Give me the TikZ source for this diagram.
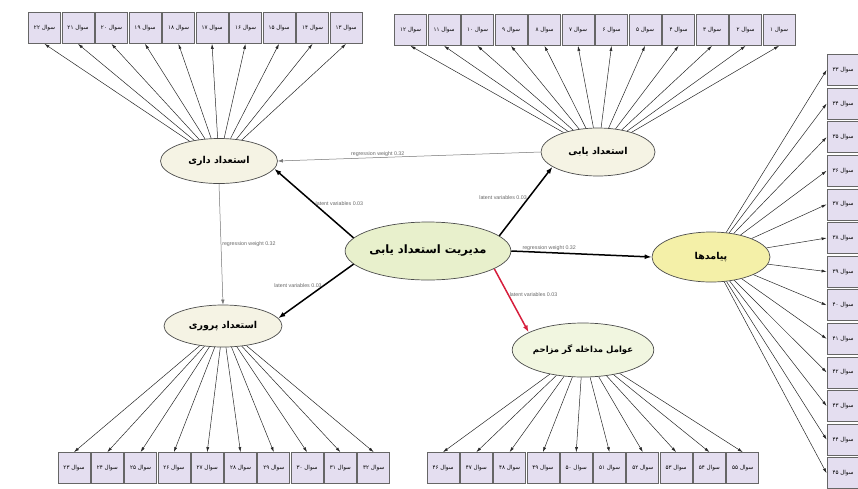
\documentclass[tikz,border=0pt]{standalone}
\usepackage{fontspec}
\setmainfont{Liberation Sans}
\newfontfamily\farsi[Script=Arabic]{DejaVu Sans}
\TeXXeTstate=1
\usetikzlibrary{arrows.meta,shapes.geometric,positioning}
\definecolor{itemfill}{RGB}{228,222,240}
\definecolor{coregreen}{RGB}{232,240,204}
\definecolor{cream}{RGB}{245,243,228}
\definecolor{outyellow}{RGB}{244,240,168}
\definecolor{arrowred}{RGB}{214,30,60}
\newcommand{\fa}[1]{{\farsi\beginR #1\endR}}
\newcommand{\soal}[1]{\fa{سوال #1}}
\tikzset{
  item/.style={draw=black!60, line width=0.8pt, fill=itemfill, minimum width=32pt,
    minimum height=31pt, inner sep=0pt, font=\fontsize{5.6}{6.5}\selectfont},
  factor/.style={ellipse, draw=black!70, line width=0.7pt, fill=cream, inner sep=0pt,
    font=\fontsize{9.5}{11}\selectfont\bfseries},
  ind/.style={-{Latex[length=5pt,width=3pt]}, line width=0.5pt, black!85},
  latent/.style={-{Latex[length=7pt,width=5pt]}, line width=1.5pt},
  regress/.style={-{Latex[length=5pt,width=3.5pt]}, line width=0.5pt, black!55},
  weight/.style={font=\fontsize{5.3}{6}\selectfont, text=black!60, inner sep=1pt},
}
\begin{document}
\begin{tikzpicture}[x=1pt,y=-1pt]
\useasboundingbox (0,0) rectangle (858,488);
% latent variables
\node[factor, fill=coregreen, minimum width=148pt, minimum height=58pt,
  font=\fontsize{11.5}{13}\selectfont\bfseries] (mgmt) at (428,251) {\fa{مدیریت استعداد یابی}};
\node[factor, minimum width=117pt, minimum height=45pt] (dari) at (219,161) {\fa{استعداد داری}};
\node[factor, minimum width=114pt, minimum height=48pt] (yabi) at (598,152) {\fa{استعداد یابی}};
\node[factor, fill=outyellow, minimum width=118pt, minimum height=50pt] (payamad) at (711,257) {\fa{پیامدها}};
\node[factor, minimum width=118pt, minimum height=42pt] (parvari) at (223,326) {\fa{استعداد پروری}};
\node[factor, fill=coregreen!60!white, minimum width=134pt, minimum height=54pt,
  font=\fontsize{8.5}{10}\selectfont\bfseries] (avamel) at (583,350) {\fa{عوامل مداخله گر مزاحم}};

% questions
\foreach \n/\q in {1/۱,2/۲,3/۳,4/۴,5/۵,6/۶,7/۷,8/۸,9/۹,10/۱۰,11/۱۱,12/۱۲}
{
  \node[item] (q\n) at ({779-33.5*(\n-1)},30) {\soal{\q}};
  \draw[ind] (yabi) -- (q\n.south);
}
\foreach \n/\q in {13/۱۳,14/۱۴,15/۱۵,16/۱۶,17/۱۷,18/۱۸,19/۱۹,20/۲۰,21/۲۱,22/۲۲}
{
  \node[item] (q\n) at ({346-33.5*(\n-13)},28) {\soal{\q}};
  \draw[ind] (dari) -- (q\n.south);
}
\foreach \n/\q in {23/۲۳,24/۲۴,25/۲۵,26/۲۶,27/۲۷,28/۲۸,29/۲۹,30/۳۰,31/۳۱,32/۳۲}
{
  \node[item] (q\n) at ({74+33.3*(\n-23)},468) {\soal{\q}};
  \draw[ind] (parvari) -- (q\n.north);
}
\foreach \n/\q in {33/۳۳,34/۳۴,35/۳۵,36/۳۶,37/۳۷,38/۳۸,39/۳۹,40/۴۰,41/۴۱,42/۴۲,43/۴۳,44/۴۴,45/۴۵}
{
  \node[item] (q\n) at (843,{70+33.6*(\n-33)}) {\soal{\q}};
  \draw[ind] (payamad) -- (q\n.west);
}
\foreach \n/\q in {46/۴۶,47/۴۷,48/۴۸,49/۴۹,50/۵۰,51/۵۱,52/۵۲,53/۵۳,54/۵۴,55/۵۵}
{
  \node[item] (q\n) at ({443+33.3*(\n-46)},468) {\soal{\q}};
  \draw[ind] (avamel) -- (q\n.north);
}

% structural paths
\draw[regress] (yabi.west) -- (dari.east) node[weight, pos=0.62, above] {regression weight 0.32};
\draw[regress] (dari.south) -- (parvari.north) node[weight, midway, right] {regression weight 0.32};
\draw[latent] (mgmt.170) -- (dari.-8) node[weight, midway, right] {latent variables 0.03};
\draw[latent] (mgmt.12) -- (yabi.198) node[weight, pos=0.55, left] {latent variables 0.03};
\draw[latent] (mgmt.east) -- (payamad.west) node[weight, pos=0.27, above] {regression weight 0.32};
\draw[latent] (mgmt.190) -- (parvari.8) node[weight, pos=0.4, left] {latent variables 0.03};
\draw[latent, arrowred] (mgmt.-15) -- (avamel.162) node[weight, pos=0.4, right] {latent variables 0.03};
\end{tikzpicture}
\end{document}
